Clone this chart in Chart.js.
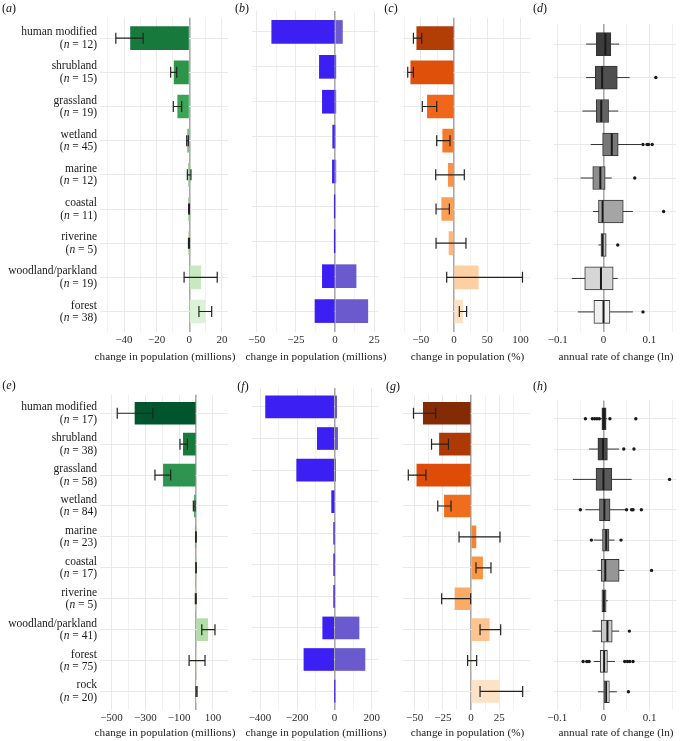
<!DOCTYPE html>
<html>
<head>
<meta charset="utf-8">
<script src="https://cdn.jsdelivr.net/npm/chart.js@4.4.0/dist/chart.umd.min.js"></script>
<style>
  html, body { margin: 0; padding: 0; background: #fff; overflow: hidden; }
  #fig { position: relative; width: 686px; height: 741px; font-family: "Liberation Serif", serif; }
  .tag { position: absolute; font-size: 12px; color: #111; transform: translate(-50%, -50%); white-space: nowrap; }
</style>
</head>
<body>
<div id="fig"></div>
<script>
/* ── DATA ── */
const HABITATS_TOP = ["human modified", "shrubland", "grassland", "wetland", "marine", "coastal", "riverine", "woodland/parkland", "forest"];
const N_TOP = [12, 15, 19, 45, 12, 11, 5, 19, 38];
const HABITATS_BOT = ["human modified", "shrubland", "grassland", "wetland", "marine", "coastal", "riverine", "woodland/parkland", "forest", "rock"];
const N_BOT = [17, 38, 58, 84, 23, 17, 5, 41, 75, 20];

// (a) change in population (millions), mean with interval
const A_CHANGE = [-36, -9.3, -7.1, -1.0, -0.5, -0.2, -0.2, 7.0, 9.6];
const A_LO = [-45, -11.4, -9.8, -1.6, -1.2, -0.4, -0.5, -3.2, 5.9];
const A_HI = [-28.3, -7.7, -4.7, -0.6, 1.0, 0.1, 0.1, 17.1, 13.7];

// (b) summed losses and gains (millions)
const B_LOSS = [-40.4, -10, -8.1, -1.5, -1.7, -0.3, -0.2, -8.1, -12.8];
const B_GAIN = [4.7, 0.2, 0.3, 0, 0.4, 0, 0, 13.4, 20.9];

// (c) change in population (%)
const C_PCT = [-56, -65, -40, -17, -8.6, -18.5, -7.5, 36.5, 13];
const C_LO = [-61, -69.6, -47.7, -26, -27.5, -27, -27, -11, 8];
const C_HI = [-48.6, -61, -26, -6, 15.5, -7, 18, 103, 19];

// (d) annual rate of change (ln), boxplots
const D_Q1 = [-0.016, -0.018, -0.016, -0.002, -0.0235, -0.011, -0.0056, -0.041, -0.021];
const D_MED = [0.004, -0.003, -0.005, 0.018, -0.007, -0.002, -0.002, -0.0056, 0.0];
const D_Q3 = [0.016, 0.030, 0.011, 0.032, 0.0036, 0.043, 0.0058, 0.021, 0.014];
const D_WLO = [-0.038, -0.038, -0.046, -0.028, -0.050, -0.023, -0.011, -0.069, -0.056];
const D_WHI = [0.034, 0.057, 0.032, 0.082, 0.018, 0.064, 0.0058, 0.031, 0.064];
const D_OUT = [[], [0.114], [], [0.086, 0.095, 0.098, 0.106], [0.068], [0.131], [0.031], [], [0.086]];

// (e) change in population (millions)
const E_CHANGE = [-361, -75, -193, -10, -0.5, -0.3, -1, 69, 5, 2];
const E_LO = [-466, -95, -243, -16, -2, -1, -4, 34, -41, 0];
const E_HI = [-256, -51, -150, -6, 1, 1, 1, 112, 53, 6];

// (f) summed losses and gains (millions)
const F_LOSS = [-370, -92, -203, -15, -2, -1, -1, -63, -164, 0];
const F_GAIN = [12, 17, 6, 0, 0, 0, 0, 132, 164, 1.5];

// (g) change in population (%)
const G_PCT = [-42.3, -28, -48, -23.6, 4.4, 10.3, -14.2, 16.2, 0.5, 25];
const G_LO = [-51, -35, -55.6, -29.5, -10.6, 4.4, -26, 8, -3, 8];
const G_HI = [-31.3, -20, -40, -17.7, 25.7, 17.7, -0.3, 26.3, 5, 45.8];

// (h) annual rate of change (ln), boxplots
const H_Q1 = [-0.0034, -0.012, -0.016, -0.0086, -0.002, -0.005, -0.0034, -0.005, -0.007, 0.0015];
const H_MED = [0.001, -0.001, 0.0, 0.002, 0.006, 0.004, 0.001, 0.0086, 0.0015, 0.006];
const H_Q3 = [0.0058, 0.0086, 0.018, 0.0143, 0.012, 0.034, 0.0058, 0.019, 0.0086, 0.0128];
const H_WLO = [-0.006, -0.031, -0.066, -0.039, -0.021, -0.013, -0.0034, -0.024, -0.021, -0.012];
const H_WHI = [0.008, 0.034, 0.061, 0.048, 0.024, 0.045, 0.0094, 0.034, 0.025, 0.029];
const H_OUT = [[-0.039, -0.024, -0.019, -0.014, -0.009, 0.014, 0.070], [0.044, 0.066], [0.143], [-0.05, 0.05, 0.061, 0.064, 0.082], [-0.026, 0.038], [0.104], [], [0.056], [-0.044, -0.036, -0.031, 0.046, 0.052, 0.057, 0.064], [0.054]];

// axis ticks (gridlines) and labelled ticks
const TICKS_A = [-50, -40, -30, -20, -10, 0, 10, 20], LABELS_A = [-40, -20, 0, 20];
const TICKS_B = [-50, -37.5, -25, -12.5, 0, 12.5, 25], LABELS_B = [-50, -25, 0, 25];
const TICKS_C = [-75, -50, -25, 0, 25, 50, 75, 100], LABELS_C = [-50, 0, 50, 100];
const TICKS_LN = [-0.1, -0.05, 0, 0.05, 0.1, 0.15], LABELS_LN = [-0.1, 0, 0.1];
const TICKS_E = [-500, -400, -300, -200, -100, 0, 100], LABELS_E = [-500, -300, -100, 100];
const TICKS_F = [-400, -300, -200, -100, 0, 100, 200], LABELS_F = [-400, -200, 0, 200];
const TICKS_G = [-50, -37.5, -25, -12.5, 0, 12.5, 25, 37.5], LABELS_G = [-50, -25, 0, 25];

/* ── STYLE ── */
const SERIF = "'Liberation Serif', 'Times New Roman', serif";
const GREENS_TOP = ["#177a3c", "#2c9549", "#3ba456", "#62b86c", "#7fc77e", "#9bd495", "#b3dfab", "#c8e9c0", "#dcf2d6"];
const GREENS_BOT = ["#00552c", "#167a3c", "#2e9550", "#48ab5e", "#68bd70", "#87cb84", "#a1d79a", "#b2dfa9", "#cdebc5", "#e3f4de"];
const ORANGES_TOP = ["#b33e05", "#df500a", "#f0661a", "#f47b2b", "#f8924a", "#f9a257", "#fcb57a", "#fdd0a2", "#fde1c3"];
const ORANGES_BOT = ["#822b05", "#ad3a05", "#de4c08", "#f06d1d", "#f7822f", "#fa9747", "#fbab66", "#fdc48f", "#fdd5ae", "#fee2c6"];
const GREYS_TOP = ["#3b3b3b", "#4f4f4f", "#636363", "#787878", "#8d8d8d", "#a5a5a5", "#bdbdbd", "#d6d6d6", "#f0f0f0"];
const GREYS_BOT = ["#363636", "#474747", "#595959", "#6b6b6b", "#7f7f7f", "#969696", "#adadad", "#c9c9c9", "#dedede", "#f3f3f3"];
const LOSS_BLUE = "#3c1ff3";
const GAIN_BLUE = "#6a5acd";
const INK = "#222";

const ROWS = [
  { top: 11, bottom: 332, axisH: 32, barH: 23 },
  { top: 388, bottom: 710, axisH: 30, barH: 22 },
];
const COLS = [[100, 228], [252, 378], [403, 530], [553, 677]];
const PAD = 12;

const fig = document.getElementById("fig");
const fmt = (v) => (v < 0 ? "\u2212" + String(-v) : String(v));

/* ── category labels with italic n ── */
const catLabels = {
  id: "catLabels",
  afterDraw(chart, args, opts) {
    const { ctx } = chart;
    const y = chart.scales.y;
    const right = y.right - 3;
    const up = `11.5px ${SERIF}`, it = `italic 11.5px ${SERIF}`;
    ctx.save();
    ctx.fillStyle = "#1a1a1a";
    ctx.textBaseline = "middle";
    ctx.textAlign = "left";
    opts.names.forEach((name, i) => {
      const py = y.getPixelForValue(i);
      ctx.font = up;
      ctx.fillText(name, right - ctx.measureText(name).width, py - 6);
      const tail = " = " + opts.counts[i] + ")";
      const wOpen = ctx.measureText("(").width;
      const wTail = ctx.measureText(tail).width;
      ctx.font = it;
      const wN = ctx.measureText("n").width;
      const x = right - wTail - wN - wOpen;
      ctx.font = up;
      ctx.fillText("(", x, py + 6.5);
      ctx.font = it;
      ctx.fillText("n", x + wOpen, py + 6.5);
      ctx.font = up;
      ctx.fillText(tail, x + wOpen + wN, py + 6.5);
    });
    ctx.restore();
  },
};

/* ── x axis title, drawn at full width (no squeezing) ── */
const axisTitle = {
  id: "axisTitle",
  afterDraw(chart, args, opts) {
    const { ctx, chartArea } = chart;
    ctx.save();
    ctx.font = `11.2px ${SERIF}`;
    ctx.fillStyle = "#1a1a1a";
    ctx.textAlign = "center";
    ctx.textBaseline = "middle";
    ctx.fillText(opts.text, (chartArea.left + chartArea.right) / 2 + 1, chart.height - 6.6);
    ctx.restore();
  },
};

/* ── dataset builders ── */
function barSet(vals, colors, h) {
  return { type: "bar", data: vals.map((v, i) => ({ x: v, y: i })), backgroundColor: colors, barThickness: h, grouped: false, order: 3 };
}
function errorSets(lo, hi) {
  return lo.map((l, i) => ({
    type: "line",
    data: [{ x: l, y: i }, { x: hi[i], y: i }],
    borderColor: INK, borderWidth: 1.2,
    pointStyle: "line", pointRotation: 90, pointRadius: 5.5,
    pointBorderWidth: 1.2, pointBorderColor: INK,
    order: 1,
  }));
}
function boxSets(q1, med, q3, wlo, whi, out, colors, h) {
  const whiskers = wlo.map((l, i) => ({
    type: "line", data: [{ x: l, y: i }, { x: whi[i], y: i }],
    borderColor: "#333", borderWidth: 1, pointRadius: 0, order: 5,
  }));
  const boxes = {
    type: "bar", data: q1.map((v, i) => ({ x: [v, q3[i]], y: i })),
    backgroundColor: colors, borderColor: "#333", borderWidth: 1, borderSkipped: false,
    barThickness: h, grouped: false, order: 4,
  };
  const medians = {
    type: "scatter", data: med.map((v, i) => ({ x: v, y: i })),
    pointStyle: "line", pointRotation: 90, pointRadius: h / 2 - 0.5,
    pointBorderWidth: 2, pointBorderColor: "#1a1a1a", order: 2,
  };
  const outliers = {
    type: "scatter", data: out.flatMap((arr, i) => arr.map((v) => ({ x: v, y: i }))),
    pointRadius: 1.7, pointBackgroundColor: "#1a1a1a", pointBorderWidth: 0, order: 1,
  };
  return [...whiskers, boxes, medians, outliers];
}

/* ── panel ── */
function makePanel(p) {
  const row = ROWS[p.row];
  const [x0, x1] = COLS[p.col];
  const first = p.col === 0;
  const left = first ? 0 : x0 - PAD;
  const width = x1 - left + PAD;
  const height = row.bottom - row.top + row.axisH;
  const canvas = document.createElement("canvas");
  canvas.width = width;
  canvas.height = height;
  canvas.style.cssText = `position:absolute;left:${left}px;top:${row.top}px;width:${width}px;height:${height}px`;
  fig.appendChild(canvas);

  const tag = document.createElement("div");
  tag.className = "tag";
  tag.style.left = p.tagAt[0] + "px";
  tag.style.top = p.tagAt[1] + "px";
  tag.innerHTML = `(<i>${p.tag}</i>)`;
  fig.appendChild(tag);

  const n = p.names.length;
  const isMajor = (v) => p.labels.includes(v);
  new Chart(canvas, {
    type: "bar",
    data: { datasets: p.datasets },
    options: {
      indexAxis: "y",
      responsive: false,
      animation: false,
      events: [],
      layout: { padding: { left: first ? 0 : PAD, right: PAD, top: 0, bottom: 0 } },
      scales: {
        x: {
          type: "linear",
          min: p.range[0],
          max: p.range[1],
          offset: false,
          afterBuildTicks: (ax) => { ax.ticks = p.ticks.map((v) => ({ value: v })); },
          afterFit: (ax) => { ax.height = row.axisH; },
          ticks: {
            autoSkip: false, maxRotation: 0, minRotation: 0, padding: 2,
            color: "#2b2b2b", font: { family: SERIF, size: 11 },
            callback: (v) => (isMajor(v) ? fmt(v) : ""),
          },
          grid: {
            offset: false,
            drawTicks: false,
            color: (c) => (c.tick && c.tick.value === 0 ? "#a9a9a9" : c.tick && isMajor(c.tick.value) ? "#e9e9e9" : "#f1f1f1"),
            lineWidth: (c) => (c.tick && c.tick.value === 0 ? 1.6 : 1),
          },
          border: { display: false },
          title: { display: false },
        },
        y: {
          type: "linear",
          reverse: true,
          offset: false,
          min: -0.6,
          max: n - 0.4,
          afterBuildTicks: (ax) => { ax.ticks = p.names.map((_, i) => ({ value: i })); },
          afterFit: (ax) => { ax.width = first ? 100 : 0; },
          ticks: { display: false },
          grid: { offset: false, drawTicks: false, color: "#e9e9e9" },
          border: { display: false },
        },
      },
      plugins: {
        legend: { display: false },
        tooltip: { enabled: false },
        axisTitle: { text: p.title },
        catLabels: first ? { names: p.names, counts: p.counts } : {},
      },
    },
    plugins: first ? [axisTitle, catLabels] : [axisTitle],
  });
}

const hT = ROWS[0].barH, hB = ROWS[1].barH;
const MILLIONS = "change in population (millions)";
const PERCENT = "change in population (%)";
const RATE = "annual rate of change (ln)";

makePanel({ row: 0, col: 0, tag: "a", tagAt: [9, 8], names: HABITATS_TOP, counts: N_TOP,
  range: [-54.7, 23.7], ticks: TICKS_A, labels: LABELS_A, title: MILLIONS,
  datasets: [barSet(A_CHANGE, GREENS_TOP, hT), ...errorSets(A_LO, A_HI)] });
makePanel({ row: 0, col: 1, tag: "b", tagAt: [242, 8], names: HABITATS_TOP,
  range: [-53, 27.4], ticks: TICKS_B, labels: LABELS_B, title: MILLIONS,
  datasets: [barSet(B_LOSS, LOSS_BLUE, hT), barSet(B_GAIN, GAIN_BLUE, hT)] });
makePanel({ row: 0, col: 2, tag: "c", tagAt: [391, 8], names: HABITATS_TOP,
  range: [-76.7, 114.3], ticks: TICKS_C, labels: LABELS_C, title: PERCENT,
  datasets: [barSet(C_PCT, ORANGES_TOP, hT), ...errorSets(C_LO, C_HI)] });
makePanel({ row: 0, col: 3, tag: "d", tagAt: [540, 8], names: HABITATS_TOP,
  range: [-0.108, 0.158], ticks: TICKS_LN, labels: LABELS_LN, title: RATE,
  datasets: boxSets(D_Q1, D_MED, D_Q3, D_WLO, D_WHI, D_OUT, GREYS_TOP, hT) });

makePanel({ row: 1, col: 0, tag: "e", tagAt: [9, 385], names: HABITATS_BOT, counts: N_BOT,
  range: [-568, 189], ticks: TICKS_E, labels: LABELS_E, title: MILLIONS,
  datasets: [barSet(E_CHANGE, GREENS_BOT, hB), ...errorSets(E_LO, E_HI)] });
makePanel({ row: 1, col: 1, tag: "f", tagAt: [243, 386], names: HABITATS_BOT,
  range: [-443, 234], ticks: TICKS_F, labels: LABELS_F, title: MILLIONS,
  datasets: [barSet(F_LOSS, LOSS_BLUE, hB), barSet(F_GAIN, GAIN_BLUE, hB)] });
makePanel({ row: 1, col: 2, tag: "g", tagAt: [393, 386], names: HABITATS_BOT,
  range: [-60.3, 52.3], ticks: TICKS_G, labels: LABELS_G, title: PERCENT,
  datasets: [barSet(G_PCT, ORANGES_BOT, hB), ...errorSets(G_LO, G_HI)] });
makePanel({ row: 1, col: 3, tag: "h", tagAt: [540, 386], names: HABITATS_BOT,
  range: [-0.108, 0.158], ticks: TICKS_LN, labels: LABELS_LN, title: RATE,
  datasets: boxSets(H_Q1, H_MED, H_Q3, H_WLO, H_WHI, H_OUT, GREYS_BOT, hB) });
</script>
</body>
</html>
